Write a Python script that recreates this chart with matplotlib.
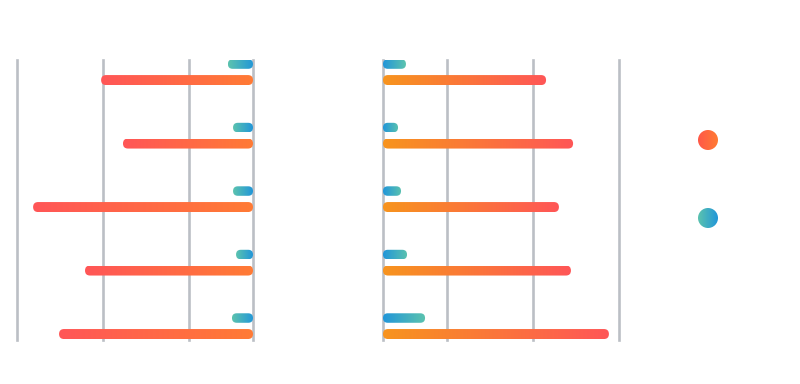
import matplotlib
matplotlib.use("Agg")
import matplotlib.pyplot as plt
import numpy as np
from matplotlib.colors import LinearSegmentedColormap
from matplotlib.patches import FancyBboxPatch, Circle

# values (axis runs 0..11, grid at 0, 3, 7, 11)
rows = ["A", "B", "C", "D", "E"]
left_orange = [7.08, 6.06, 10.25, 7.83, 9.04]
left_blue = [1.17, 0.93, 0.93, 0.79, 0.98]
right_orange = [7.60, 8.86, 8.20, 8.76, 10.53]
right_blue = [1.07, 0.70, 0.84, 1.12, 1.96]
grid_ticks = [0, 3, 7, 11]
x_max = 11

cmap_left_orange = LinearSegmentedColormap.from_list("lo", ["#FF7B35", "#FF5657"])
cmap_right_orange = LinearSegmentedColormap.from_list("ro", ["#F7941E", "#FF5657"])
cmap_blue = LinearSegmentedColormap.from_list("bl", ["#2196D9", "#5CC3AE"])
grad = np.linspace(0, 1, 256).reshape(1, -1)

fig = plt.figure(figsize=(8, 3.84), dpi=100)
ax_l = fig.add_axes([17 / 800, 44 / 384, 236 / 800, 280 / 384])
ax_r = fig.add_axes([383 / 800, 44 / 384, 236 / 800, 280 / 384])


def round_bar(ax, y, length, h, cmap):
    # rounded bar filled with a gradient going from 0 to the bar end
    p0 = ax.transData.transform((0, 0))
    p1 = ax.transData.transform((1, 1))
    ux = 1 / abs(p1[0] - p0[0])
    uy = 1 / abs(p1[1] - p0[1])
    m = uy / ux
    patch = FancyBboxPatch((0, y - h / 2), length, h,
                           boxstyle=f"round,pad=0,rounding_size={h / (2 * m)}",
                           mutation_aspect=m, facecolor="none", edgecolor="none")
    ax.add_patch(patch)
    im = ax.imshow(grad, cmap=cmap, aspect="auto", interpolation="bilinear",
                   extent=[0, length, y + h / 2, y - h / 2], zorder=3)
    im.set_clip_path(patch)


bar_h = 10 / 63.5
for ax, orange, blue, cmap_o, inverted in [
        (ax_l, left_orange, left_blue, cmap_left_orange, True),
        (ax_r, right_orange, right_blue, cmap_right_orange, False)]:
    if inverted:
        ax.set_xlim(x_max, 0)
    else:
        ax.set_xlim(0, x_max)
    ax.set_ylim(4 + 0.22, -0.19)
    for t in grid_ticks:
        ax.axvline(t, color="#BBBFC5", lw=1.9, clip_on=False, zorder=1)
    for i in range(len(rows)):
        round_bar(ax, i - 0.126, blue[i], 9.5 / 63.5, cmap_blue)
        round_bar(ax, i + 0.126, orange[i], bar_h, cmap_o)
    ax.set_xlim(*ax.get_xlim())
    ax.set_ylim(4 + 0.22, -0.19)
    ax.axis("off")

# legend dots (no labels in the original)
ax_lg = fig.add_axes([688 / 800, 134 / 384, 40 / 800, 140 / 384])
ax_lg.set_xlim(0, 40)
ax_lg.set_ylim(140, 0)
legend_cmaps = [LinearSegmentedColormap.from_list("lr", ["#FF5848", "#FF7B33"]),
                LinearSegmentedColormap.from_list("lb", ["#5CC3AE", "#2196D9"])]
for (cy, cm) in zip([30, 108], legend_cmaps):
    c = Circle((20, cy), 10, facecolor="none", edgecolor="none")
    ax_lg.add_patch(c)
    im = ax_lg.imshow(grad, cmap=cm, aspect="auto", extent=[10, 30, cy + 10, cy - 10])
    im.set_clip_path(c)
ax_lg.set_xlim(0, 40)
ax_lg.set_ylim(140, 0)
ax_lg.axis("off")

fig.savefig("out.png", dpi=100)
